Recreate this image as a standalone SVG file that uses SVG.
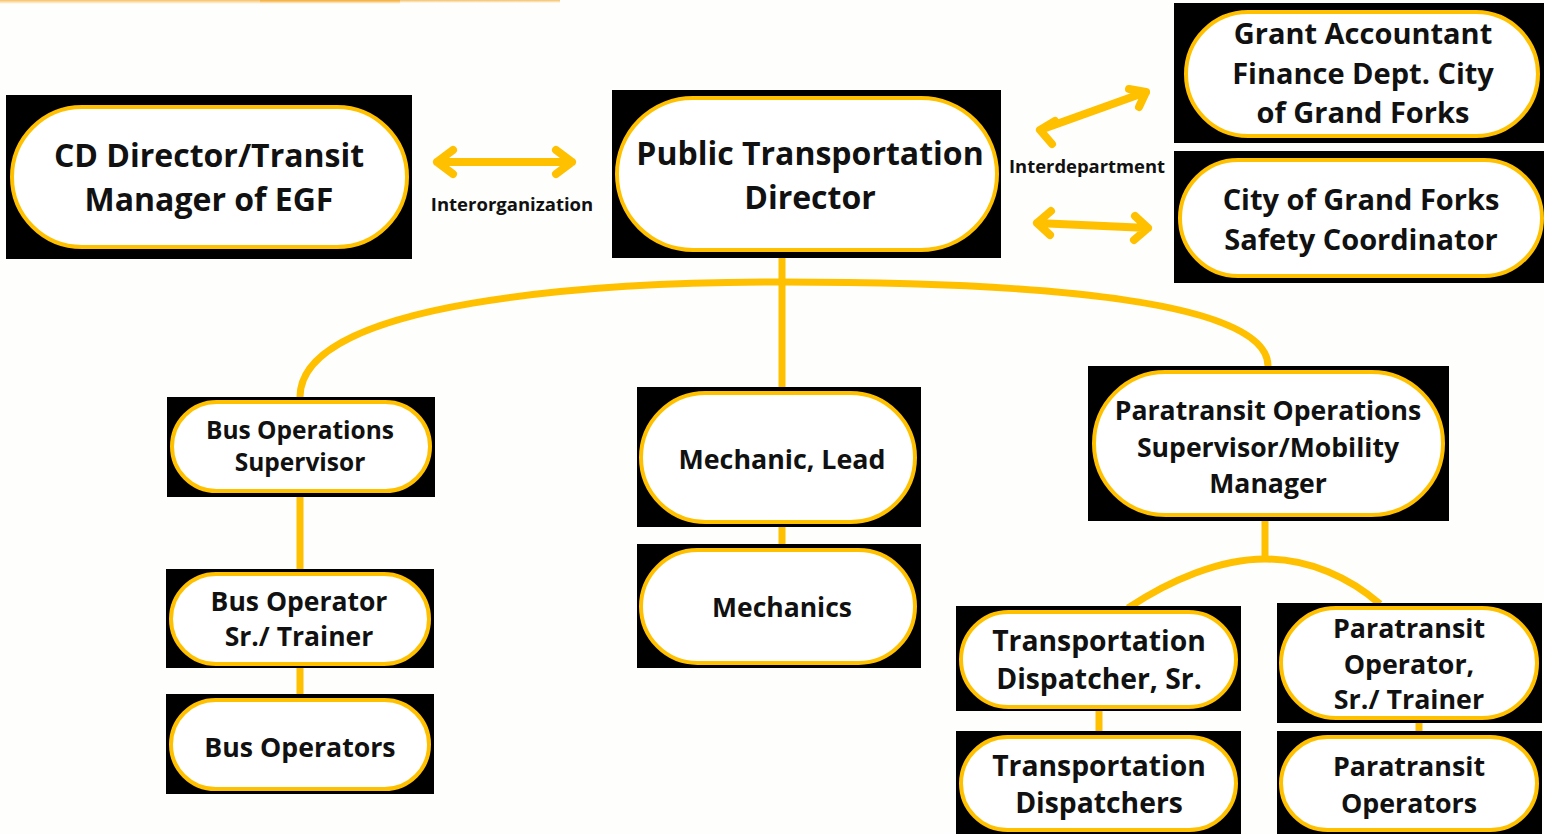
<svg xmlns="http://www.w3.org/2000/svg" width="1544" height="834" viewBox="0 0 1544 834">
<defs>
<style>
.box{fill:#000}
.pill{fill:#fff;stroke:#FFC000;stroke-width:4}
.t{font-family:"Open Sans","Liberation Sans",sans-serif;font-weight:700;fill:#111;text-anchor:middle}
.ln{fill:none;stroke:#FFC000;stroke-width:7}
.ar{fill:none;stroke:#FFC000;stroke-width:8;stroke-linecap:round;stroke-linejoin:round}
</style>
<linearGradient id="topfade" x1="0" y1="0" x2="0" y2="1">
<stop offset="0" stop-color="#F5A623" stop-opacity="0.7"/>
<stop offset="1" stop-color="#F5A623" stop-opacity="0"/>
</linearGradient>
</defs>
<rect width="1544" height="834" fill="#fefefd"/>
<rect x="0" y="0" width="400" height="4" fill="url(#topfade)"/>
<rect x="260" y="0" width="300" height="3" fill="url(#topfade)"/>
<g id="connectors">
<path class="ln" d="M782 258 V387"/>
<path class="ln" d="M300 397 C300 300 600 282 782 282 C1000 282 1268 295 1268 366"/>
<path class="ln" d="M300 497 V569"/>
<path class="ln" d="M300 668 V694"/>
<path class="ln" d="M782 527 V544"/>
<path class="ln" d="M1265 521 V559"/>
<path class="ln" d="M1128 608 C1170 580 1220 559 1265 559 C1310 559 1350 578 1380 604"/>
<path class="ln" d="M1099 711 V731"/>
<path class="ln" d="M1419 723 V731"/>
<path class="ar" d="M437 162 H572 M453 150 L437 162 L453 174 M556 150 L572 162 L556 174"/>
<path class="ar" d="M1040 130 L1146 92 M1052 144 L1040 130 L1055 121 M1129 89 L1146 92 L1139 107"/>
<path class="ar" d="M1037 223 L1148 228 M1051 211 L1037 223 L1050 235 M1135 216 L1148 228 L1134 240"/>
</g>
<g id="labels">
<text class="t" x="512" y="211" font-size="18.5">Interorganization</text>
<text class="t" x="1087" y="173" font-size="18.4">Interdepartment</text>
</g>
<g id="cd-director">
<rect class="box" x="6" y="95" width="406" height="164"/>
<rect class="pill" x="12" y="107" width="395" height="140" rx="70"/>
<text class="t" x="209" y="167" font-size="32">CD Director/Transit</text>
<text class="t" x="209" y="211" font-size="32">Manager of EGF</text>
</g>
<g id="pt-director">
<rect class="box" x="612" y="90" width="389" height="168"/>
<rect class="pill" x="617" y="98" width="380" height="152" rx="76"/>
<text class="t" x="810" y="165" font-size="32">Public Transportation</text>
<text class="t" x="810" y="209" font-size="32">Director</text>
</g>
<g id="grant-accountant">
<rect class="box" x="1174" y="3" width="370" height="140"/>
<rect class="pill" x="1186" y="12" width="352" height="124" rx="62"/>
<text class="t" x="1363" y="44" font-size="29">Grant Accountant</text>
<text class="t" x="1363" y="84" font-size="29">Finance Dept. City</text>
<text class="t" x="1363" y="123" font-size="29">of Grand Forks</text>
</g>
<g id="safety-coordinator">
<rect class="box" x="1174" y="151" width="370" height="132"/>
<rect class="pill" x="1180" y="160" width="362" height="116" rx="58"/>
<text class="t" x="1361" y="210" font-size="29">City of Grand Forks</text>
<text class="t" x="1361" y="250" font-size="29">Safety Coordinator</text>
</g>
<g id="bus-ops-supervisor">
<rect class="box" x="167" y="397" width="268" height="100"/>
<rect class="pill" x="172" y="402" width="258" height="89" rx="44.5"/>
<text class="t" x="300" y="439" font-size="24.5">Bus Operations</text>
<text class="t" x="300" y="471" font-size="24.5">Supervisor</text>
</g>
<g id="bus-operator-sr">
<rect class="box" x="166" y="569" width="268" height="99"/>
<rect class="pill" x="171" y="574" width="258" height="90" rx="45"/>
<text class="t" x="299" y="611" font-size="26.5">Bus Operator</text>
<text class="t" x="299" y="646" font-size="26.5">Sr./ Trainer</text>
</g>
<g id="bus-operators">
<rect class="box" x="166" y="694" width="268" height="100"/>
<rect class="pill" x="171" y="700" width="258" height="89" rx="44.5"/>
<text class="t" x="300" y="757" font-size="26.7">Bus Operators</text>
</g>
<g id="mechanic-lead">
<rect class="box" x="637" y="387" width="284" height="140"/>
<rect class="pill" x="641" y="393" width="274" height="129" rx="64.5"/>
<text class="t" x="782" y="469" font-size="26.8">Mechanic, Lead</text>
</g>
<g id="mechanics">
<rect class="box" x="637" y="544" width="284" height="124"/>
<rect class="pill" x="641" y="550" width="274" height="113" rx="56.5"/>
<text class="t" x="782" y="617" font-size="26.5">Mechanics</text>
</g>
<g id="paratransit-supervisor">
<rect class="box" x="1088" y="366" width="361" height="155"/>
<rect class="pill" x="1094" y="372" width="349" height="143" rx="71.5"/>
<text class="t" x="1268" y="420" font-size="26.6">Paratransit Operations</text>
<text class="t" x="1268" y="457" font-size="26.6">Supervisor/Mobility</text>
<text class="t" x="1268" y="493" font-size="26.6">Manager</text>
</g>
<g id="dispatcher-sr">
<rect class="box" x="956" y="606" width="285" height="105"/>
<rect class="pill" x="961" y="612" width="275" height="95" rx="47.5"/>
<text class="t" x="1099" y="651" font-size="28.3">Transportation</text>
<text class="t" x="1099" y="689" font-size="28.3">Dispatcher, Sr.</text>
</g>
<g id="dispatchers">
<rect class="box" x="956" y="731" width="285" height="103"/>
<rect class="pill" x="961" y="737" width="275" height="93" rx="46.5"/>
<text class="t" x="1099" y="776" font-size="28.3">Transportation</text>
<text class="t" x="1099" y="813" font-size="28.3">Dispatchers</text>
</g>
<g id="paratransit-operator-sr">
<rect class="box" x="1277" y="603" width="265" height="120"/>
<rect class="pill" x="1281" y="608" width="256" height="110" rx="55"/>
<text class="t" x="1409" y="638" font-size="26.8">Paratransit</text>
<text class="t" x="1409" y="674" font-size="26.8">Operator,</text>
<text class="t" x="1409" y="709" font-size="26.8">Sr./ Trainer</text>
</g>
<g id="paratransit-operators">
<rect class="box" x="1277" y="731" width="265" height="103"/>
<rect class="pill" x="1281" y="737" width="256" height="93" rx="46.5"/>
<text class="t" x="1409" y="776" font-size="26.8">Paratransit</text>
<text class="t" x="1409" y="813" font-size="26.8">Operators</text>
</g>
</svg>
